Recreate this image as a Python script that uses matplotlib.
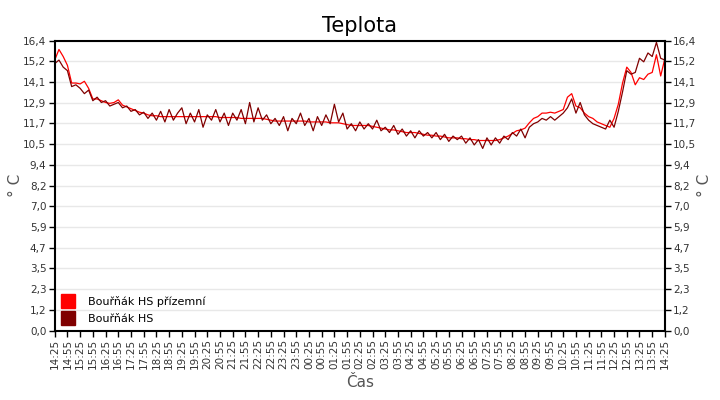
import numpy as np
import pandas as pd
import matplotlib
matplotlib.use('Agg')
from matplotlib import pyplot as plt
from matplotlib.lines import Line2D

plt.rcParams['font.family'] = ['DejaVu Sans']

# 10 minute samples from 14:25 to 14:25 next day
start = '2024-01-01 14:25'
prizemni = [15.3, 15.9, 15.5, 15.0, 14.0, 14.0, 13.95, 14.1, 13.7, 13.1,
             13.1, 13.0, 12.9, 12.85, 12.9, 13.05, 12.75, 12.65, 12.55, 12.45,
             12.35, 12.3, 12.2, 12.15, 12.15, 12.1, 12.1, 12.1, 12.1, 12.1,
             12.1, 12.1, 12.1, 12.1, 12.1, 12.1, 12.1, 12.1, 12.1, 12.05,
             12.05, 12.05, 12.05, 12.05, 12.0, 12.0, 12.0, 12.0, 12.0, 12.0,
             11.95, 11.9, 11.85, 11.85, 11.85, 11.85, 11.85, 11.85, 11.85, 11.85,
             11.8, 11.8, 11.8, 11.8, 11.8, 11.75, 11.75, 11.75, 11.7, 11.65,
             11.6, 11.6, 11.6, 11.6, 11.6, 11.55, 11.5, 11.45, 11.4, 11.35,
             11.35, 11.3, 11.25, 11.2, 11.2, 11.2, 11.15, 11.1, 11.05, 11.05,
             11.0, 11.0, 10.95, 10.9, 10.9, 10.9, 10.85, 10.85, 10.8, 10.8,
             10.75, 10.75, 10.75, 10.75, 10.75, 10.8, 10.9, 11.0, 11.15, 11.3,
             11.35, 11.45, 11.75, 12.0, 12.1, 12.3, 12.3, 12.35, 12.3, 12.4,
             12.5, 13.2, 13.4, 12.7, 12.6, 12.3, 12.1, 12.0, 11.8, 11.7,
             11.6, 11.5, 12.0, 12.8, 14.0, 14.9, 14.6, 13.9, 14.3, 14.2,
             14.5, 14.6, 15.6, 14.4, 15.4]
hs = [15.1, 15.3, 14.9, 14.7, 13.8, 13.9, 13.7, 13.4, 13.6, 13.0,
      13.2, 12.9, 13.0, 12.7, 12.8, 12.9, 12.6, 12.7, 12.4, 12.5,
      12.2, 12.35, 12.0, 12.3, 11.9, 12.4, 11.8, 12.5, 11.9, 12.3,
      12.6, 11.7, 12.3, 11.8, 12.5, 11.5, 12.2, 11.9, 12.5, 11.8,
      12.3, 11.6, 12.3, 11.9, 12.5, 11.7, 12.9, 11.8, 12.6, 11.9,
      12.2, 11.7, 12.0, 11.6, 12.1, 11.3, 12.0, 11.7, 12.3, 11.6,
      12.0, 11.3, 12.1, 11.6, 12.2, 11.7, 12.8, 11.8, 12.3, 11.4,
      11.7, 11.3, 11.8, 11.4, 11.7, 11.4, 11.9, 11.3, 11.5, 11.2,
      11.6, 11.1, 11.4, 11.0, 11.3, 10.9, 11.3, 11.0, 11.2, 10.9,
      11.2, 10.8, 11.1, 10.7, 11.0, 10.8, 11.0, 10.6, 10.9, 10.5,
      10.8, 10.3, 10.9, 10.5, 10.9, 10.6, 11.0, 10.8, 11.2, 11.0,
      11.4, 10.9, 11.5, 11.7, 11.8, 12.0, 11.9, 12.1, 11.9, 12.1,
      12.3, 12.6, 13.1, 12.3, 12.9, 12.2, 11.9, 11.7, 11.6, 11.5,
      11.4, 11.9, 11.5, 12.4, 13.5, 14.7, 14.5, 14.6, 15.4, 15.2,
      15.7, 15.5, 16.3, 15.4, 15.3]
names = ['Bouřňák HS přízemní', 'Bouřňák HS']
colors = ['#ff0000', '#800000']

t = pd.date_range(start, periods=len(hs), freq='10min')
x = (t - t[0]).total_seconds() / 60.0
ticks = pd.date_range(start, periods=49, freq='30min')
tick_x = (ticks - ticks[0]).total_seconds() / 60.0
tick_lbl = [d.strftime('%H:%M') for d in ticks]

ymax = 16.4
yticks = [ymax * i / 14 for i in range(15)]
ylbl = [('%.1f' % v).replace('.', ',') for v in yticks]

fig = plt.figure(figsize=(7.2, 4.0), dpi=100)
ax = fig.add_axes([0.076, 0.1735, 0.8475, 0.725])

ax.plot(x, prizemni, color=colors[0], lw=0.9)
ax.plot(x, hs, color=colors[1], lw=0.9)

ax.set_xlim(0, tick_x[-1])
ax.set_ylim(0, ymax)
ax.set_yticks(yticks)
ax.set_yticklabels(ylbl)
ax.set_xticks(tick_x)
ax.set_xticklabels(tick_lbl, rotation=90)
ax.yaxis.grid(True, color='#e8e8e8', lw=1)
ax.set_axisbelow(True)
ax.tick_params(axis='both', labelsize=7.5, colors='#000000', labelcolor='#333333',
               length=4, width=1, direction='out', pad=2)
ax.tick_params(axis='y', right=True, labelright=True)
for s in ax.spines.values():
    s.set_linewidth(1.5)

ax.set_title('Teplota', fontsize=15, pad=6)
ax.set_xlabel('Čas', fontsize=11, color='#555555', labelpad=4)
# y axis title on both sides
fig.text(0.022, 0.536, '° C', rotation=90, fontsize=11, color='#555555',
         ha='center', va='center')
fig.text(0.978, 0.536, '° C', rotation=90, fontsize=11, color='#555555',
         ha='center', va='center')

handles = [Line2D([], [], marker='s', ls='', color=c, markersize=10.5) for c in colors]
ax.legend(handles, names, loc='lower left', bbox_to_anchor=(-0.005, 0.005),
          frameon=False, fontsize=8, handletextpad=0.8, labelspacing=0.6,
          borderaxespad=0.1)

fig.savefig('out.png', dpi=100)
